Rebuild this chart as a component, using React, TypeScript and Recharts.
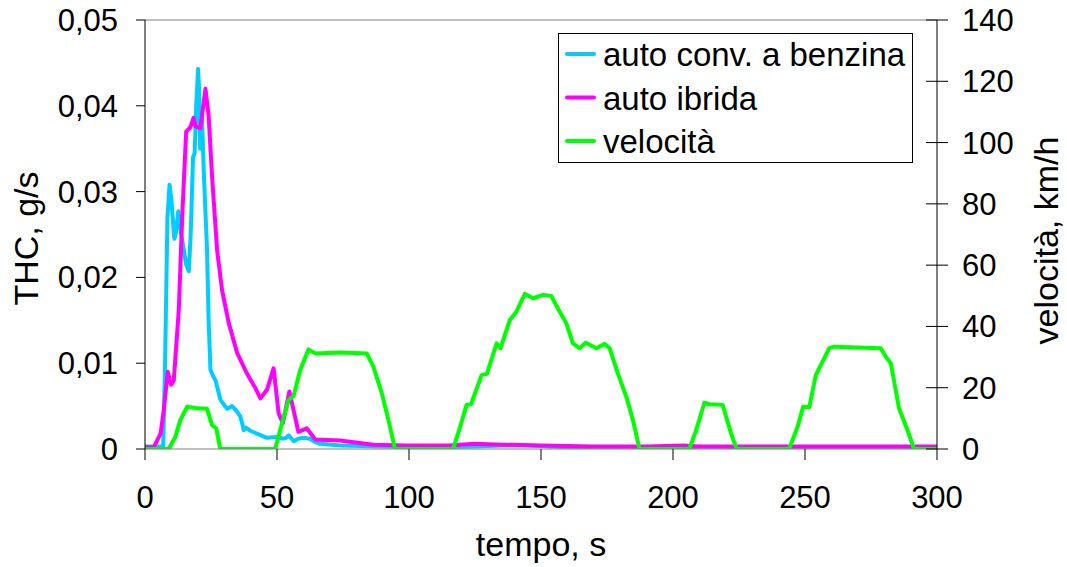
import React from 'react';
import { LineChart, Line, XAxis, YAxis, Legend, ReferenceLine } from 'recharts';

// ---- data ----
const benzinaT = [0, 6.9, 7.6, 8.5, 9.3, 10, 11.1, 11.6, 12.6, 13.2, 14.7, 15.6, 16.6, 17.3, 18.2, 18.8, 19.4, 20.1, 20.5, 20.9, 21.6, 22.3, 23.5, 24.1, 24.8, 25.8, 26.7, 28.6, 31.1, 33.0, 34.5, 36.1, 36.8, 37.4, 38.2, 40, 42.4, 46.2, 50, 52.2, 53.5, 54.4, 56.3, 58, 60, 62.5, 64.5, 66.4, 74, 90, 110, 125, 135, 145, 160, 180, 300];
const benzinaV = [0.0003, 0.0003, 0.01, 0.027, 0.0308, 0.029, 0.0245, 0.025, 0.0277, 0.026, 0.0232, 0.0215, 0.0207, 0.025, 0.034, 0.0345, 0.04, 0.0443, 0.042, 0.035, 0.0385, 0.032, 0.0232, 0.015, 0.0092, 0.0085, 0.008, 0.0057, 0.0047, 0.005, 0.0045, 0.0038, 0.003, 0.0022, 0.0025, 0.0021, 0.0018, 0.0013, 0.0014, 0.0012, 0.0013, 0.0016, 0.0009, 0.0012, 0.0013, 0.0012, 0.0008, 0.0006, 0.0004, 0.0003, 0.0002, 0.0003, 0.0004, 0.0004, 0.0002, 0.0001, 0.0001];

const ibridaT = [0, 3.3, 5.9, 7.1, 8.6, 9.9, 10.9, 12.8, 14.1, 15.6, 17.2, 18.4, 19.1, 21.0, 22.9, 24.1, 25.4, 27.3, 29.2, 31.7, 34.9, 38.6, 41.8, 43.7, 46.2, 48.7, 50.6, 52.2, 54.7, 58.1, 61.3, 64.5, 73.9, 86.5, 99, 115, 125, 135, 150, 170, 190, 204, 210, 250, 300];
const ibridaV = [0.0002, 0.0002, 0.0018, 0.0045, 0.009, 0.0075, 0.008, 0.0162, 0.0271, 0.037, 0.0375, 0.0386, 0.0376, 0.0374, 0.042, 0.0388, 0.0318, 0.0232, 0.0185, 0.0147, 0.0112, 0.0088, 0.0071, 0.0059, 0.0069, 0.0094, 0.0042, 0.003, 0.0067, 0.002, 0.0024, 0.0011, 0.001, 0.0005, 0.0004, 0.0004, 0.0006, 0.0005, 0.0004, 0.0003, 0.0003, 0.0004, 0.0003, 0.0003, 0.0003];

const velocitaT = [0, 9.0, 11.5, 13.4, 16.0, 19.7, 23.5, 25.4, 27.0, 28.5, 49.3, 51.9, 54.4, 56.3, 58.8, 61.9, 64.5, 73.9, 84.0, 86.5, 89.7, 92.2, 94.7, 116.7, 119.4, 121.8, 123.5, 127.5, 129.5, 133.2, 134.7, 138.2, 140.7, 143.9, 147.0, 150.8, 153.9, 157.1, 159.6, 162.1, 164.6, 166.9, 171.0, 174.1, 176.0, 179.1, 182.3, 184.8, 187.3, 206.2, 208.8, 211.9, 213.8, 218.8, 222.0, 224.1, 244.0, 247.2, 249.3, 251.6, 254.1, 259.2, 261.1, 278.7, 280.6, 282.5, 285.6, 288.8, 291.3, 300];
const velocitaV = [0, 0, 4, 9.5, 13.8, 13.3, 13.1, 7.8, 6.7, 0, 0, 8.4, 16, 17.4, 25.8, 32.5, 31.2, 31.5, 31.2, 26.9, 18.2, 9.5, 0, 0, 7.3, 14.4, 14.6, 24.1, 24.5, 34.5, 32.9, 42.1, 44.8, 50.6, 49.2, 50.3, 49.9, 44.8, 41, 34.5, 32.9, 34.7, 32.9, 34.3, 32.9, 24.7, 17.1, 9.5, 0, 0, 6.2, 15.1, 14.6, 14.4, 5.1, 0, 0, 7.3, 13.8, 13.6, 24.1, 32.9, 33.4, 32.9, 30.1, 28, 13.3, 6.2, 0, 0];

const xTicks = [0, 50, 100, 150, 200, 250, 300];
const thcTicks = [0, 0.01, 0.02, 0.03, 0.04, 0.05];
const velTicks = [0, 20, 40, 60, 80, 100, 120, 140];

const seriesNames = ['auto conv. a benzina', 'auto ibrida', 'velocità'];
const seriesColors = ['#00CCFF', '#FF00FF', '#00FF00'];

const toPoints = (ts: number[], vs: number[]) => ts.map((t, i) => ({ t, v: vs[i] }));
const benzinaData = toPoints(benzinaT, benzinaV);
const ibridaData = toPoints(ibridaT, ibridaV);
const velocitaData = toPoints(velocitaT, velocitaV);

const FONT = '"Liberation Sans", Arial, sans-serif';
const TICK_FS = 31;
const TITLE_FS = 34;
const LEGEND_FS = 33;

const fmtThc = (v: number) => (v === 0 ? '0' : v.toFixed(2).replace('.', ','));

const RightTick = (props: any) => {
  const { x, y, payload } = props;
  const ax = x - 25;
  return (
    <g>
      <line x1={ax - 11} x2={ax + 11} y1={y} y2={y} stroke="#000" strokeWidth={1} />
      <text x={x} y={y} dy="0.355em" textAnchor="start" fontSize={TICK_FS} fill="#000" fontFamily={FONT}>
        {payload.value}
      </text>
    </g>
  );
};

const LeftLabel = (props: any) => {
  const vb = props.viewBox || { x: 0, y: 20, width: 145, height: 429 };
  const cx = vb.x + 26;
  const cy = vb.y + vb.height / 2 + 4;
  return (
    <text x={cx} y={cy} transform={`rotate(-90, ${cx}, ${cy})`} textAnchor="middle" dominantBaseline="central" fontSize={TITLE_FS} fill="#000" fontFamily={FONT}>
      THC, g/s
    </text>
  );
};

const RightLabel = (props: any) => {
  const vb = props.viewBox || { x: 937, y: 20, width: 130, height: 429 };
  const cx = vb.x + 109;
  const cy = vb.y + vb.height / 2 + 6;
  return (
    <text x={cx} y={cy} transform={`rotate(-90, ${cx}, ${cy})`} textAnchor="middle" dominantBaseline="central" fontSize={TITLE_FS} fill="#000" fontFamily={FONT}>
      velocità, km/h
    </text>
  );
};

const LegendBox = () => {
  const rows = [21, 64.5, 108];
  return (
    <svg width={356} height={131} style={{ display: 'block' }}>
      <rect x={0.5} y={0.5} width={354} height={129} fill="#fff" stroke="#000" strokeWidth={1} />
      {seriesNames.map((name, i) => (
        <g key={name}>
          <line x1={9} x2={36} y1={rows[i]} y2={rows[i]} stroke={seriesColors[i]} strokeWidth={4} strokeLinecap="round" />
          <text x={45} y={rows[i] + 12.4} fontSize={LEGEND_FS} fill="#000" fontFamily={FONT}>
            {name}
          </text>
        </g>
      ))}
    </svg>
  );
};

export default function App() {
  return (
    <div style={{ position: 'absolute', left: 0, top: 0, width: 1067, height: 567, background: '#fff', fontFamily: FONT }}>
      <LineChart width={1067} height={567} margin={{ top: 20, right: 0, bottom: 0, left: 0 }}>
        <XAxis
          dataKey="t"
          type="number"
          domain={[0, 300]}
          ticks={xTicks}
          allowDataOverflow
          height={118}
          tickSize={11}
          tickMargin={26}
          axisLine={{ stroke: '#808080' }}
          tickLine={{ stroke: '#000' }}
          tick={{ fill: '#000', fontSize: TICK_FS, fontFamily: FONT }}
          label={{ value: 'tempo, s', position: 'insideBottom', offset: 11, fill: '#000', fontSize: TITLE_FS, fontFamily: FONT }}
        />
        <YAxis
          yAxisId="thc"
          orientation="left"
          width={145}
          domain={[0, 0.05]}
          ticks={thcTicks}
          allowDataOverflow
          tickFormatter={fmtThc}
          tickSize={9}
          tickMargin={18}
          axisLine={{ stroke: '#000' }}
          tickLine={{ stroke: '#000' }}
          tick={{ fill: '#000', fontSize: TICK_FS, fontFamily: FONT }}
          label={LeftLabel}
        />
        <YAxis
          yAxisId="vel"
          orientation="right"
          width={130}
          domain={[0, 140]}
          ticks={velTicks}
          allowDataOverflow
          tickSize={11}
          tickMargin={14}
          axisLine={{ stroke: '#000' }}
          tickLine={false}
          tick={<RightTick />}
          label={RightLabel}
        />
        <ReferenceLine yAxisId="thc" y={0.05} stroke="#808080" strokeWidth={1} />
        <Legend
          layout="horizontal"
          verticalAlign="middle"
          align="center"
          content={() => <LegendBox />}
          wrapperStyle={{ left: 558, top: 33, width: 356, height: 131 }}
        />
        <Line yAxisId="thc" data={benzinaData} dataKey="v" name={seriesNames[0]} type="linear" stroke={seriesColors[0]} strokeWidth={4} dot={false} isAnimationActive={false} strokeLinejoin="round" />
        <Line yAxisId="thc" data={ibridaData} dataKey="v" name={seriesNames[1]} type="linear" stroke={seriesColors[1]} strokeWidth={4} dot={false} isAnimationActive={false} strokeLinejoin="round" />
        <Line yAxisId="vel" data={velocitaData} dataKey="v" name={seriesNames[2]} type="linear" stroke={seriesColors[2]} strokeWidth={4} dot={false} isAnimationActive={false} strokeLinejoin="round" />
      </LineChart>
    </div>
  );
}
